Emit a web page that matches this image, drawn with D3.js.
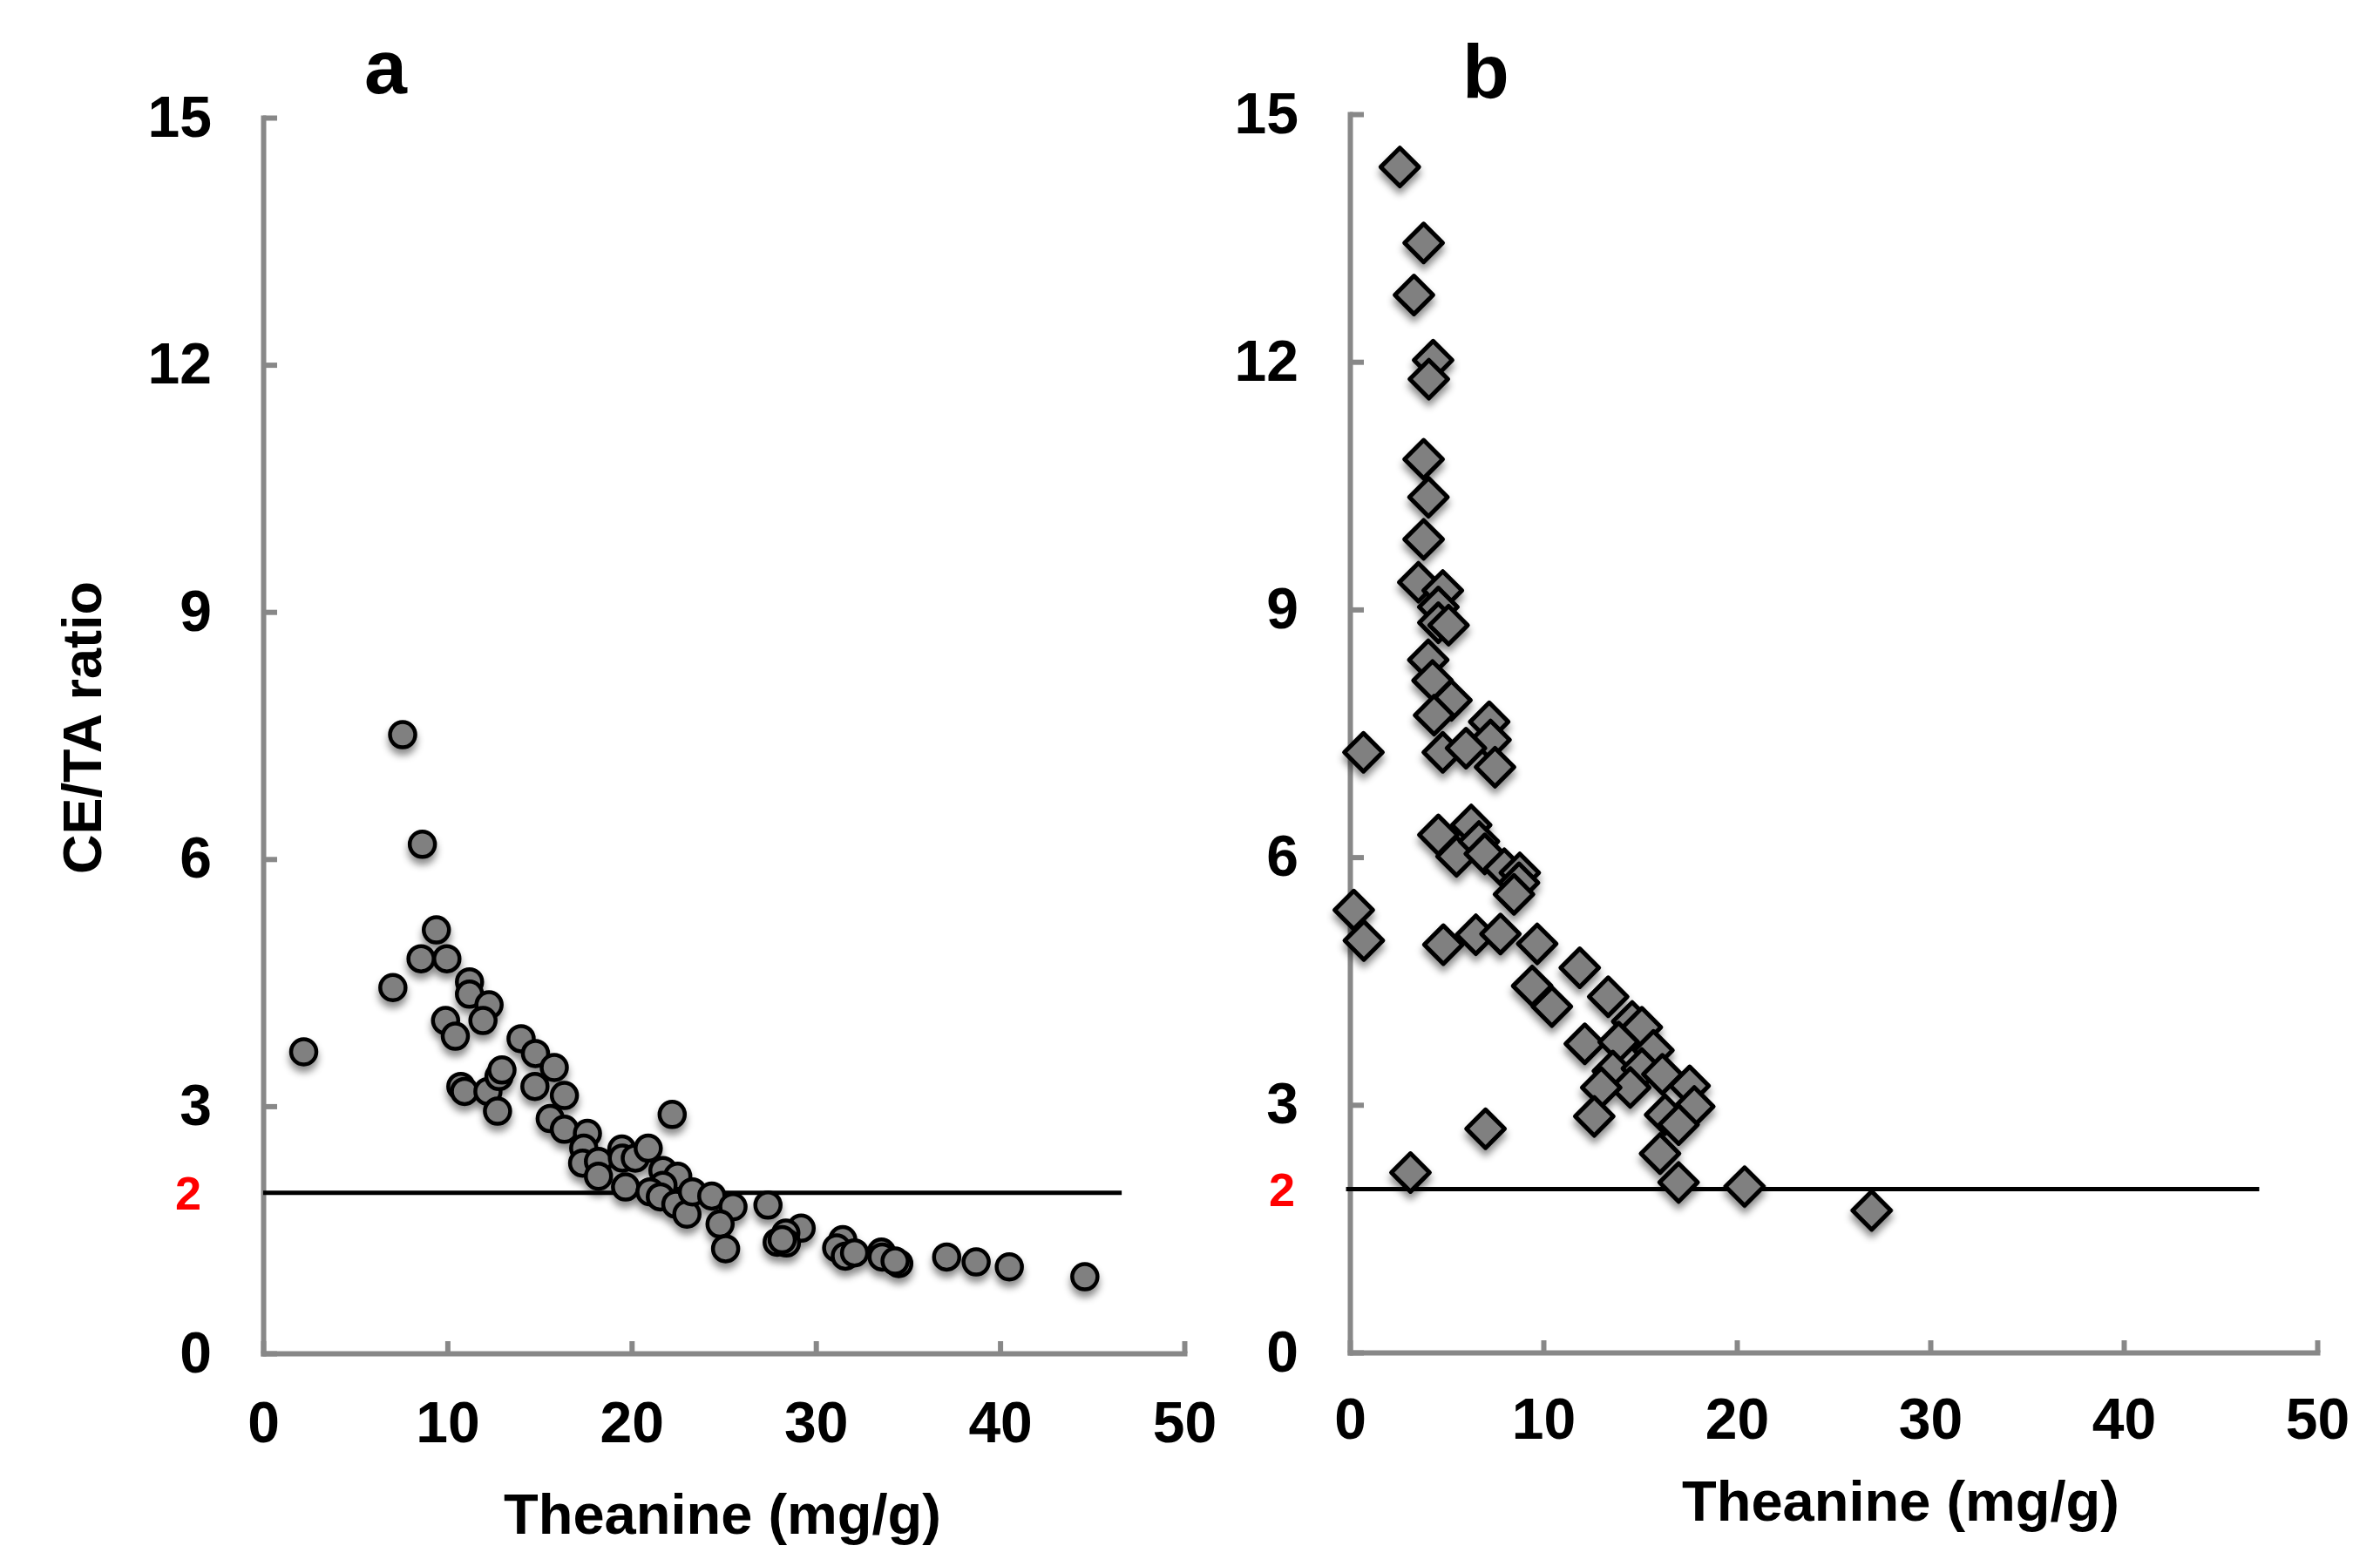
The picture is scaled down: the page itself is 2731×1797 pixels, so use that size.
<!DOCTYPE html>
<html>
<head>
<meta charset="utf-8">
<script src="https://cdn.jsdelivr.net/npm/d3@7"></script>
<style>
  html, body { margin: 0; padding: 0; background: #fff; }
  text { font-family: "Liberation Sans", Arial, sans-serif; font-weight: bold; }
</style>
</head>
<body>
<div id="chart"></div>
<script>
// Data
const xTicks = [0, 10, 20, 30, 40, 50];
const yTicks = [0, 3, 6, 9, 12, 15];
const thresholdLabel = "2";
// the drawn reference lines sit a hair under 2 in the original
const thresholdA = 1.95, thresholdB = 1.98;

// panel a: circles
const theanineA = [2.2, 7.57, 8.64, 9.4, 8.57, 9.97, 7.04, 11.2, 11.2, 12.26, 11.93, 9.9, 10.43, 14.0, 14.78,
  15.8, 14.75, 16.35, 10.73, 10.93, 12.2, 12.8, 12.96, 12.72, 15.58, 16.35, 17.6, 17.4, 17.34, 18.2,
  18.2, 19.47, 19.5, 20.2, 20.9, 22.2, 21.7, 22.5, 21.7, 19.67, 21.0, 21.56, 22.4, 23.0, 23.3,
  24.35, 25.5, 24.8, 25.1, 27.4, 29.2, 28.37, 27.9, 28.4, 28.17, 31.46, 31.13, 31.6, 32.1, 33.56,
  33.6, 34.5, 34.3, 37.1, 38.7, 40.5, 44.6];
const ratioA = [3.66, 7.51, 6.18, 5.14, 4.79, 4.79, 4.44, 4.51, 4.36, 4.23, 4.04, 4.04, 3.85, 3.82, 3.64,
  3.47, 3.24, 3.13, 3.24, 3.18, 3.18, 3.36, 3.44, 2.94, 2.85, 2.72, 2.67, 2.49, 2.31, 2.33,
  2.15, 2.48, 2.37, 2.37, 2.49, 2.90, 2.22, 2.15, 2.04, 2.02, 1.96, 1.90, 1.81, 1.69, 1.96,
  1.91, 1.78, 1.57, 1.27, 1.80, 1.52, 1.46, 1.35, 1.34, 1.38, 1.38, 1.28, 1.18, 1.22, 1.23,
  1.17, 1.09, 1.12, 1.17, 1.11, 1.05, 0.93];

// panel b: diamonds
const theanineB = [2.58, 3.81, 3.31, 4.30, 4.08, 3.81, 4.06, 3.81, 3.54, 4.80, 4.57, 4.57, 5.1, 4.05, 4.27,
  5.25, 4.35, 7.2, 7.27, 0.7, 4.8, 6.0, 7.5, 4.57, 6.27, 5.51, 6.67, 6.97, 7.98, 8.78,
  8.74, 8.48, 0.2, 0.72, 4.83, 6.51, 7.78, 9.68, 11.88, 9.42, 10.44, 13.35, 14.59, 15.09, 12.14,
  13.89, 15.69, 13.59, 15.09, 16.15, 14.49, 12.99, 17.56, 17.8, 16.29, 16.99, 12.63, 7.01, 16.03, 3.13,
  16.99, 20.4, 26.97];
const ratioB = [14.36, 13.44, 12.81, 12.02, 11.79, 10.82, 10.36, 9.85, 9.33, 9.23, 9.03, 8.84, 8.81, 8.39, 8.14,
  7.9, 7.72, 7.64, 7.42, 7.27, 7.27, 7.32, 7.09, 6.27, 6.39, 6.01, 6.19, 6.04, 5.86, 5.81,
  5.69, 5.55, 5.36, 4.99, 4.94, 5.06, 5.07, 4.95, 4.66, 4.44, 4.19, 4.31, 4.01, 3.94, 3.74,
  3.76, 3.66, 3.41, 3.44, 3.37, 3.21, 3.21, 3.23, 2.98, 2.88, 2.76, 2.86, 2.71, 2.41, 2.18,
  2.06, 2.01, 1.72];

const width = 2731, height = 1797;
const axisColor = "#888888";

const svg = d3.select("#chart").append("svg")
  .attr("width", width)
  .attr("height", height);

// soft shadow under the markers
const filter = svg.append("defs").append("filter")
  .attr("id", "shadow")
  .attr("x", "-50%").attr("y", "-50%")
  .attr("width", "200%").attr("height", "200%");
filter.append("feDropShadow")
  .attr("dx", 0).attr("dy", 7)
  .attr("stdDeviation", 4)
  .attr("flood-color", "#000")
  .attr("flood-opacity", 0.45);

const panels = [
  { id: "a", xs: theanineA, ys: ratioA, shape: "circle", threshold: thresholdA,
    xRange: [302, 1359], yRange: [1553, 135], lineFrom: 0, lineTo: 46.6,
    letterX: 418, letterY: 107, redX: 231, titleX: 829, titleY: 1760, xPad: 55 },
  { id: "b", xs: theanineB, ys: ratioB, shape: "diamond", threshold: thresholdB,
    xRange: [1549, 2659], yRange: [1552, 131], lineFrom: -0.2, lineTo: 47.0,
    letterX: 1678, letterY: 112, redX: 1486, titleX: 2181, titleY: 1745, xPad: 52 }
];

panels.forEach(p => {
  const x = d3.scaleLinear().domain([0, 50]).range(p.xRange);
  const y = d3.scaleLinear().domain([0, 15]).range(p.yRange);
  const g = svg.append("g");

  // x axis with inside ticks
  const xAxis = g.append("g")
    .attr("transform", `translate(0,${y(0)})`)
    .call(d3.axisBottom(x).tickValues(xTicks).tickSizeInner(-14).tickSizeOuter(0).tickPadding(p.xPad));

  // y axis with inside ticks
  const yAxis = g.append("g")
    .attr("transform", `translate(${x(0)},0)`)
    .call(d3.axisLeft(y).tickValues(yTicks).tickSizeInner(-16).tickSizeOuter(0).tickPadding(59));

  [xAxis, yAxis].forEach(ax => {
    ax.select(".domain").attr("stroke", axisColor).attr("stroke-width", 6).attr("stroke-linecap", "square");
    ax.selectAll(".tick line").attr("stroke", axisColor).attr("stroke-width", 6);
    ax.selectAll(".tick text")
      .attr("fill", "#000")
      .style("font-size", "66px")
      .style("font-weight", "bold")
      .style("font-family", "'Liberation Sans', Arial, sans-serif");
  });

  // threshold line at ratio = 2
  g.append("line")
    .attr("x1", x(p.lineFrom)).attr("x2", x(p.lineTo))
    .attr("y1", y(p.threshold)).attr("y2", y(p.threshold))
    .attr("stroke", "#000")
    .attr("stroke-width", 5);

  g.append("text")
    .attr("x", p.redX)
    .attr("y", y(p.threshold))
    .attr("dy", "0.36em")
    .attr("text-anchor", "end")
    .attr("fill", "#ff0000")
    .style("font-size", "54px")
    .text(thresholdLabel);

  // markers
  const pts = p.xs.map((v, i) => ({ x: v, y: p.ys[i] }));
  const marks = g.append("g").attr("filter", "url(#shadow)");
  if (p.shape === "circle") {
    marks.selectAll("circle").data(pts).enter()
      .append("circle")
      .attr("cx", d => x(d.x))
      .attr("cy", d => y(d.y))
      .attr("r", 14.5)
      .attr("fill", "#808080")
      .attr("stroke", "#000")
      .attr("stroke-width", 4.5);
  } else {
    const diamond = d3.symbol().type(d3.symbolSquare).size(31 * 31);
    marks.selectAll("path").data(pts).enter()
      .append("path")
      .attr("d", diamond)
      .attr("transform", d => `translate(${x(d.x)},${y(d.y)}) rotate(45)`)
      .attr("fill", "#808080")
      .attr("stroke", "#000")
      .attr("stroke-width", 5)
      .attr("stroke-linejoin", "round");
  }

  // x axis title
  g.append("text")
    .attr("x", p.titleX)
    .attr("y", p.titleY)
    .attr("text-anchor", "middle")
    .style("font-size", "65px")
    .text("Theanine (mg/g)");

  // panel letter
  g.append("text")
    .attr("x", p.letterX)
    .attr("y", p.letterY)
    .style("font-size", "88px")
    .text(p.id);
});

// y axis title (left panel only)
svg.append("text")
  .attr("transform", "translate(116,835) rotate(-90)")
  .attr("text-anchor", "middle")
  .style("font-size", "63px")
  .text("CE/TA ratio");
</script>
</body>
</html>
